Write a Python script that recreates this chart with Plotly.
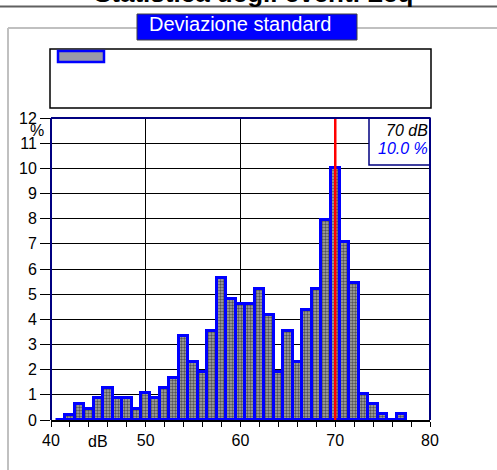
import plotly.graph_objects as go

# ---- data ----
db_levels = [41, 42, 43, 44, 45, 46, 47, 48, 49, 50, 51, 52, 53, 54, 55, 56, 57, 58, 59,
             60, 61, 62, 63, 64, 65, 66, 67, 68, 69, 70, 71, 72, 73, 74, 75, 76, 77]
percent = [0.0, 0.21, 0.64, 0.42, 0.86, 1.27, 0.86, 0.86, 0.42, 1.06, 0.86, 1.27, 1.68, 3.35,
           2.31, 1.89, 3.55, 5.63, 4.8, 4.6, 4.6, 5.2, 4.17, 1.9, 3.54, 2.3, 4.37, 5.2,
           7.93, 10.0, 7.09, 5.43, 1.04, 0.64, 0.22, 0.0, 0.22]
x_ticks = [40, 50, 60, 70, 80]
y_ticks = list(range(0, 13))
marker_db = 70
marker_pct = 10.0
title_text = "Statistica degli eventi Leq"
box_title = "Deviazione standard"

FONT = "Liberation Sans, Arial, sans-serif"
W, H = 497, 470
L, R, T, B = 51, 430, 118, 420  # plot area in pixels


def px(x):
    return (x - L) / (R - L)


def py(y):
    return (B - y) / (B - T)


fig = go.Figure()
fig.add_trace(go.Bar(
    x=db_levels, y=percent, width=1,
    marker=dict(color="#8a8a8a",
                line=dict(color="#0000ff", width=3),
                pattern=dict(shape=".", fgcolor="#000000", bgcolor="#a8a8a8",
                             size=3, solidity=0.5)),
    showlegend=False,
))

shapes = []
# page decorations
shapes.append(dict(type="line", xref="paper", yref="paper", x0=px(0), x1=px(497),
                   y0=py(6.5), y1=py(6.5), line=dict(color="#606060", width=2)))
shapes.append(dict(type="line", xref="paper", yref="paper", x0=px(8), x1=px(500),
                   y0=py(28), y1=py(28), line=dict(color="#c0c0c0", width=2)))
shapes.append(dict(type="line", xref="paper", yref="paper", x0=px(8), x1=px(8),
                   y0=py(28), y1=py(480), line=dict(color="#c0c0c0", width=2)))
# title box
shapes.append(dict(type="rect", xref="paper", yref="paper", x0=px(137), x1=px(357),
                   y0=py(40), y1=py(14), fillcolor="#0000ff",
                   line=dict(color="#404040", width=1)))
# legend box
shapes.append(dict(type="rect", xref="paper", yref="paper", x0=px(50), x1=px(431),
                   y0=py(108), y1=py(49), fillcolor="white",
                   line=dict(color="#000000", width=1.5)))
shapes.append(dict(type="rect", xref="paper", yref="paper", x0=px(58), x1=px(104),
                   y0=py(62), y1=py(51), fillcolor="#9a9aa8",
                   line=dict(color="#0000ff", width=2.5)))
# red marker line
shapes.append(dict(type="line", xref="x", yref="y", x0=marker_db, x1=marker_db,
                   y0=0, y1=12, line=dict(color="#ff0000", width=2.5), layer="above"))
# stat box
shapes.append(dict(type="rect", xref="paper", yref="paper", x0=px(369), x1=1.0,
                   y0=py(165), y1=1.0, fillcolor="white",
                   line=dict(color="#000080", width=1.5), layer="above"))
# plot frame (left, top, right navy)
for x0, x1, y0, y1 in [(0, 0, 0, 1), (0, 1, 1, 1), (1, 1, 0, 1)]:
    shapes.append(dict(type="line", xref="paper", yref="paper", x0=x0, x1=x1,
                       y0=y0, y1=y1, line=dict(color="#000080", width=2), layer="above"))

annotations = [
    dict(text=f"<b>{title_text}</b>", xref="paper", yref="paper", x=px(253), y=py(10),
         xanchor="center", yanchor="bottom", showarrow=False,
         font=dict(family=FONT, size=26, color="#000000")),
    dict(text=box_title, xref="paper", yref="paper", x=px(240), y=py(24),
         xanchor="center", yanchor="middle", showarrow=False,
         font=dict(family=FONT, size=20, color="#ffffff")),
    dict(text=f"<i>{marker_db} dB</i>", xref="paper", yref="paper", x=px(430), y=py(130),
         xanchor="right", yanchor="middle", showarrow=False,
         font=dict(family=FONT, size=16, color="#000000")),
    dict(text=f"<i>{marker_pct:.1f} %</i>", xref="paper", yref="paper", x=px(430), y=py(148),
         xanchor="right", yanchor="middle", showarrow=False,
         font=dict(family=FONT, size=16, color="#0000ff")),
    dict(text="%", xref="paper", yref="paper", x=px(37), y=py(130),
         xanchor="center", yanchor="middle", showarrow=False,
         font=dict(family=FONT, size=16, color="#000000")),
    dict(text="dB", xref="x", yref="paper", x=45, y=py(441),
         xanchor="center", yanchor="middle", showarrow=False,
         font=dict(family=FONT, size=16, color="#000000")),
]

fig.update_layout(
    width=W, height=H,
    margin=dict(l=L, r=W - R, t=T, b=H - B, pad=0),
    paper_bgcolor="white", plot_bgcolor="white",
    bargap=0,
    shapes=shapes, annotations=annotations,
    font=dict(family=FONT, size=16, color="#000000"),
    xaxis=dict(range=[40, 80], tickvals=x_ticks, ticks="outside", ticklen=5,
               tickcolor="#000000", showgrid=True, gridcolor="#000000", gridwidth=1,
               showline=True, linecolor="#000000", linewidth=2, zeroline=False,
               minor=dict(dtick=2, ticks="outside", ticklen=5, tickcolor="#000000",
                          showgrid=False),
               tickfont=dict(family=FONT, size=16)),
    yaxis=dict(range=[0, 12], tickvals=y_ticks, ticks="outside", ticklen=10,
               tickcolor="#000000", showgrid=True, gridcolor="#000000", gridwidth=1,
               showline=False, zeroline=False,
               tickfont=dict(family=FONT, size=16)),
)

fig.write_html("out.html", config={"displayModeBar": False},
               post_script="document.body.style.margin='0';document.body.style.overflow='hidden';")
